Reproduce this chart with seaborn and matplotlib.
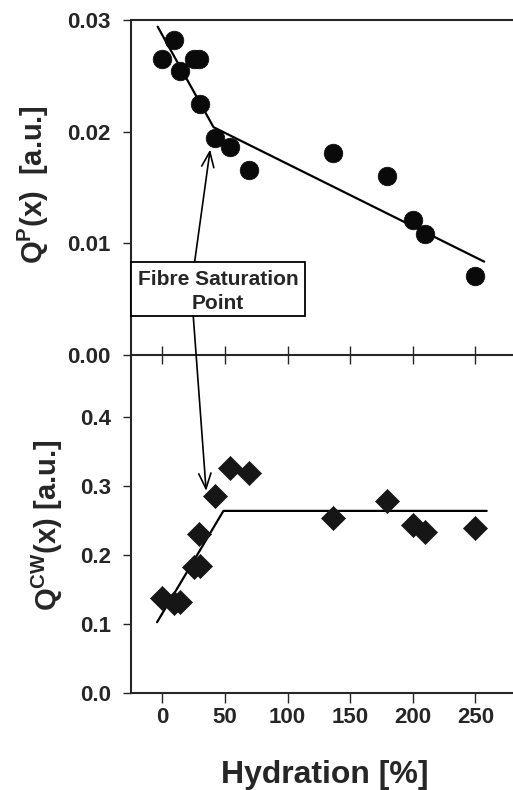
import numpy as np
import pandas as pd
import matplotlib
matplotlib.use("Agg")
import matplotlib.pyplot as plt
from matplotlib.patches import Rectangle, ConnectionPatch
import seaborn as sns

# Measured quantities versus hydration level
hydration = [0, 9, 14, 25, 29, 30, 42, 54, 69, 136, 179, 200, 210, 250]
q_p = [0.0265, 0.0282, 0.0254, 0.0265, 0.0265, 0.0225, 0.0194, 0.0186,
       0.0166, 0.0181, 0.0160, 0.0121, 0.0108, 0.0071]
q_cw = [0.137, 0.130, 0.132, 0.182, 0.231, 0.184, 0.286, 0.326,
        0.319, 0.253, 0.279, 0.244, 0.233, 0.239]

# Two-segment fits (breakpoint at the fibre saturation point)
fit_p_x = [-3.7, 40.9, 257]
fit_p_y = [0.0294, 0.0204, 0.00836]
fit_cw_x = [-4.2, 48.8, 259]
fit_cw_y = [0.1026, 0.264, 0.264]

x_ticks = [0, 50, 100, 150, 200, 250]
p_ticks = [0.00, 0.01, 0.02, 0.03]
cw_ticks = [0.0, 0.1, 0.2, 0.3, 0.4]

sns.set_theme(style="ticks")
plt.rcParams["font.family"] = ["Liberation Sans", "DejaVu Sans"]
plt.rcParams["font.weight"] = "bold"
plt.rcParams["mathtext.fontset"] = "custom"
plt.rcParams["mathtext.rm"] = "Liberation Sans:bold"
plt.rcParams["mathtext.it"] = "Liberation Sans:bold"
plt.rcParams["mathtext.bf"] = "Liberation Sans:bold"

df = pd.DataFrame({"hydration": hydration, "q_p": q_p, "q_cw": q_cw})

W, H = 513, 790
fig = plt.figure(figsize=(W / 100, H / 100), dpi=100)
left, right = 131, 513
ax_top = fig.add_axes([left / W, (H - 355) / H, (right - left) / W, 335 / H])
ax_bot = fig.add_axes([left / W, (H - 693) / H, (right - left) / W, 338 / H])

# Top panel: Q^P
sns.lineplot(x=fit_p_x, y=fit_p_y, ax=ax_top, color="black", lw=1.6,
             sort=False, estimator=None, zorder=2)
sns.scatterplot(data=df, x="hydration", y="q_p", ax=ax_top, marker="o",
                s=180, color="#0a0a0a", edgecolor="#0a0a0a", linewidth=0.5,
                zorder=3)

# Bottom panel: Q^CW
sns.lineplot(x=fit_cw_x, y=fit_cw_y, ax=ax_bot, color="black", lw=1.6,
             sort=False, estimator=None, zorder=2)
sns.scatterplot(data=df, x="hydration", y="q_cw", ax=ax_bot, marker="D",
                s=150, color="#161616", edgecolor="#161616", linewidth=0.5,
                zorder=3)

for ax in (ax_top, ax_bot):
    ax.set_xlim(-25, 280)
    ax.set_xticks(x_ticks)
    ax.set_xlabel("")
    ax.set_ylabel("")
    ax.spines["right"].set_visible(False)
    ax.spines["left"].set_linewidth(1.5)
    ax.spines["bottom"].set_linewidth(1.5)
    ax.tick_params(axis="y", direction="out", length=6, width=1,
                   labelsize=16, pad=8.5)
    ax.set_facecolor("none")

ax_top.set_ylim(0, 0.03)
ax_top.set_yticks(p_ticks)
ax_top.set_yticklabels([f"{t:.2f}" for t in p_ticks])
ax_top.spines["top"].set_linewidth(1.5)
ax_top.tick_params(axis="x", direction="inout", length=13, width=1,
                   labelbottom=False)

ax_bot.set_ylim(0, 0.49)
ax_bot.set_yticks(cw_ticks)
ax_bot.set_yticklabels([f"{t:.1f}" for t in cw_ticks])
ax_bot.spines["top"].set_visible(False)
ax_bot.tick_params(axis="x", direction="out", length=7, width=1,
                   labelsize=16, pad=3)

# Axis titles
fig.text(33 / W, 1 - 185 / H, r"Q$^{\mathrm{P}}$(x)  [a.u.]", rotation=90,
         ha="center", va="center", fontsize=21, fontweight="bold")
fig.text(47 / W, 1 - 525 / H, r"Q$^{\mathrm{CW}}$(x) [a.u.]", rotation=90,
         ha="center", va="center", fontsize=21, fontweight="bold")
fig.text(325 / W, 1 - 775 / H, "Hydration [%]", ha="center", va="center",
         fontsize=23, fontweight="bold")

# Fibre saturation point call-out
box = Rectangle((-25, 0.0035), 139, 0.00483, transform=ax_top.transData,
                facecolor="white", edgecolor="black", lw=1.3, zorder=5,
                clip_on=False)
ax_top.add_patch(box)
ax_top.text(44.5, 0.0068, "Fibre Saturation", ha="center", va="center",
            fontsize=15, fontweight="bold", zorder=6)
ax_top.text(44.5, 0.0046, "Point", ha="center", va="center",
            fontsize=15, fontweight="bold", zorder=6)

arrow_style = "->,head_length=0.5,head_width=0.2"
ax_top.annotate("", xy=(38.2, 0.0184), xytext=(25.8, 0.00833),
                arrowprops=dict(arrowstyle=arrow_style, lw=1.2,
                                color="black", mutation_scale=22,
                                shrinkA=0, shrinkB=0),
                zorder=4)
con = ConnectionPatch(xyA=(24.7, 0.0035), coordsA=ax_top.transData,
                      xyB=(35.0, 0.293), coordsB=ax_bot.transData,
                      arrowstyle=arrow_style, lw=1.2, color="black",
                      mutation_scale=22, shrinkA=0, shrinkB=0, zorder=4)
fig.add_artist(con)

fig.savefig("out.png", dpi=100)
